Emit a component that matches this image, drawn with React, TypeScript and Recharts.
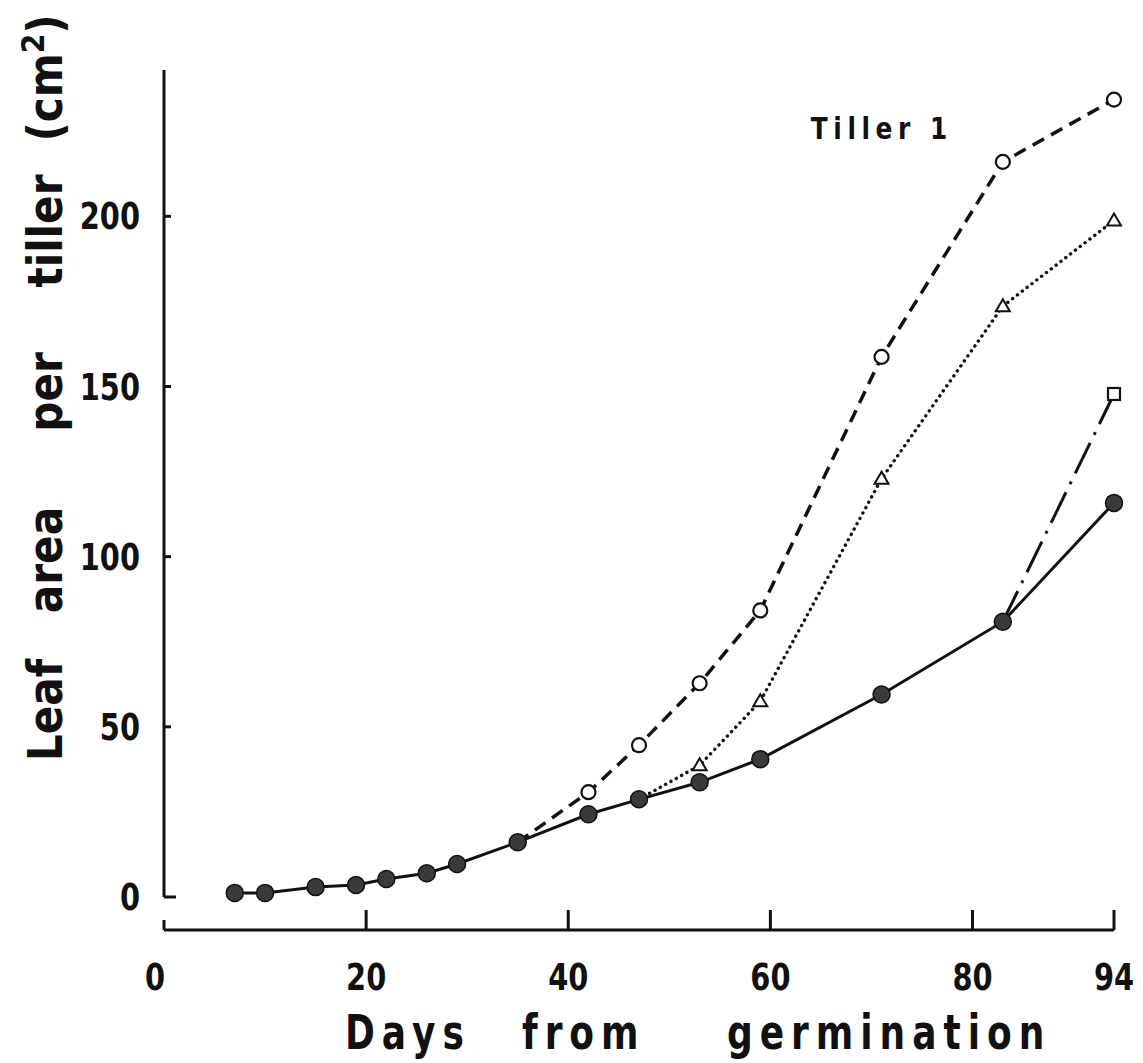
import * as React from "react";
import { LineChart, Line, XAxis, YAxis, ReferenceLine, ReferenceDot } from "recharts";

// main tiller (solid, filled circles)
const days = [7, 10, 15, 19, 22, 26, 29, 35, 42, 47, 53, 59, 71, 83, 94];
const mainArea = [1.2, 1.2, 2.9, 3.5, 5.3, 7.0, 9.7, 16.1, 24.3, 28.7, 33.7, 40.5, 59.5, 80.9, 115.8];

// branch starting at day 35 (dashed, open circles)
const circleDays = [35, 42, 47, 53, 59, 71, 83, 94];
const circleArea = [16.1, 30.8, 44.6, 62.8, 84.2, 158.7, 216, 234.3];

// branch starting at day 47 (dotted, open triangles)
const triDays = [47, 53, 59, 71, 83, 94];
const triArea = [28.7, 38.7, 57.5, 122.9, 173.6, 198.8];

// branch starting at day 83 (dash-dot, open square)
const squareDays = [83, 94];
const squareArea = [80.9, 147.8];

const xTicks = [0, 20, 40, 60, 80, 94];
const yTicks = [0, 50, 100, 150, 200];

const toRows = (xs: number[], ys: number[]) => xs.map((d, i) => ({ day: d, v: ys[i] }));

const ink = "#111";
const font = "'DejaVu Sans', sans-serif";

const filledDot = (p: any) => (
  <circle key={"f" + p.index} cx={p.cx} cy={p.cy} r={8.5} fill="#3a3a3a" stroke={ink} strokeWidth={1.5} />
);

const openCircle = (p: any) =>
  p.index === 0 ? <g key={"c" + p.index} /> : (
    <circle key={"c" + p.index} cx={p.cx} cy={p.cy} r={7} fill="#fff" stroke={ink} strokeWidth={2.2} />
  );

const openTriangle = (p: any) =>
  p.index === 0 ? <g key={"t" + p.index} /> : (
    <path
      key={"t" + p.index}
      d={`M${p.cx},${p.cy - 7} L${p.cx + 7},${p.cy + 5} L${p.cx - 7},${p.cy + 5} Z`}
      fill="#fff"
      stroke={ink}
      strokeWidth={2}
    />
  );

const openSquare = (p: any) =>
  p.index === 0 ? <g key={"s" + p.index} /> : (
    <rect key={"s" + p.index} x={p.cx - 6} y={p.cy - 6} width={12} height={12} fill="#fff" stroke={ink} strokeWidth={2.2} />
  );

const XTick = (p: any) => {
  const v = p.payload.value;
  const tx = p.x - (v === 0 ? 9 : 0);
  return (
    <g>
      <line x1={p.x} y1={p.y} x2={p.x} y2={p.y - (v === 0 ? 10 : 20)} stroke={ink} strokeWidth={3} />
      <text
        transform={`translate(${tx}, ${p.y + 60}) scale(0.78, 1)`}
        textAnchor="middle"
        fontFamily={font}
        fontWeight="bold"
        fontSize={37}
        fill={ink}
      >
        {v}
      </text>
    </g>
  );
};

const YTick = (p: any) => {
  const v = p.payload.value;
  return (
    <g>
      <line x1={p.x} y1={p.y} x2={p.x + (v === 0 ? 12 : 7)} y2={p.y} stroke={ink} strokeWidth={3} />
      <text
        transform={`translate(${p.x - 24}, ${p.y + 13}) scale(0.78, 1)`}
        textAnchor="end"
        fontFamily={font}
        fontWeight="bold"
        fontSize={37}
        fill={ink}
      >
        {v}
      </text>
    </g>
  );
};

// words of the x title, with their start offset from the plot's left edge
const xTitleWords = [
  { w: "Days", dx: 181 },
  { w: "from", dx: 358 },
  { w: "germination", dx: 563 },
];

const XTitle = (p: any) => {
  const vb = p.viewBox;
  const y = vb.y + 119;
  return (
    <g>
      {xTitleWords.map((t) => (
        <text
          key={t.w}
          transform={`translate(${vb.x + t.dx}, ${y}) scale(0.75, 1)`}
          fontFamily={font}
          fontWeight="bold"
          fontSize={48}
          fill={ink}
          style={{ letterSpacing: "9.3px" }}
        >
          {t.w}
        </text>
      ))}
    </g>
  );
};

// words of the y title, with the page y of each word's centre
const yTitleWords = [
  { w: "Leaf", cy: 710 },
  { w: "area", cy: 560 },
  { w: "per", cy: 392 },
  { w: "tiller", cy: 231 },
  { w: "(cm", cy: 78, sup: true },
];

const YTitle = () => {
  const x = 62;
  return (
    <g>
      {yTitleWords.map((t) => (
        <text
          key={t.w}
          transform={`translate(${x}, ${t.cy}) rotate(-90) scale(0.88, 1)`}
          textAnchor="middle"
          fontFamily={font}
          fontWeight="bold"
          fontSize={48}
          fill={ink}
        >
          {t.w}
          {t.sup ? (
            <>
              <tspan dy={-18} fontSize={32}>2</tspan>
              <tspan dy={18}>)</tspan>
            </>
          ) : null}
        </text>
      ))}
    </g>
  );
};

const TillerLabel = (p: any) => (
  <text
    transform={`translate(${p.cx}, ${p.cy}) scale(0.8, 1)`}
    fontFamily={font}
    fontWeight="bold"
    fontSize={31}
    fill={ink}
    style={{ letterSpacing: "7px" }}
  >
    Tiller 1
  </text>
);

export default function App() {
  return (
    <div style={{ position: "absolute", left: 0, top: 0, background: "#fff" }}>
      <LineChart width={1143} height={1063} margin={{ top: 70, right: 29, left: 84, bottom: 73 }}>
        <XAxis
          type="number"
          dataKey="day"
          domain={[0, 94]}
          ticks={xTicks}
          tickSize={0}
          tickMargin={0}
          height={60}
          tick={<XTick />}
          axisLine={{ stroke: ink, strokeWidth: 3 }}
          tickLine={false}
          label={<XTitle />}
        />
        <YAxis
          type="number"
          domain={[-9.7, 243]}
          allowDataOverflow
          ticks={yTicks}
          tickSize={0}
          tickMargin={0}
          width={80}
          tick={<YTick />}
          axisLine={false}
          tickLine={false}
          label={<YTitle />}
        />
        <ReferenceLine segment={[{ x: 0, y: 0 }, { x: 0, y: 243 }]} stroke={ink} strokeWidth={3} />
        <ReferenceDot x={64} y={222.6} r={0} shape={<TillerLabel />} />
        <Line
          data={toRows(circleDays, circleArea)}
          dataKey="v"
          stroke={ink}
          strokeWidth={3.5}
          strokeDasharray="13 8"
          dot={openCircle}
          isAnimationActive={false}
        />
        <Line
          data={toRows(triDays, triArea)}
          dataKey="v"
          stroke={ink}
          strokeWidth={3.4}
          strokeDasharray="0.1 6"
          strokeLinecap="round"
          dot={openTriangle}
          isAnimationActive={false}
        />
        <Line
          data={toRows(squareDays, squareArea)}
          dataKey="v"
          stroke={ink}
          strokeWidth={3}
          strokeDasharray="34 9 3 9"
          dot={openSquare}
          isAnimationActive={false}
        />
        <Line
          data={toRows(days, mainArea)}
          dataKey="v"
          stroke={ink}
          strokeWidth={3}
          dot={filledDot}
          isAnimationActive={false}
        />
      </LineChart>
    </div>
  );
}
